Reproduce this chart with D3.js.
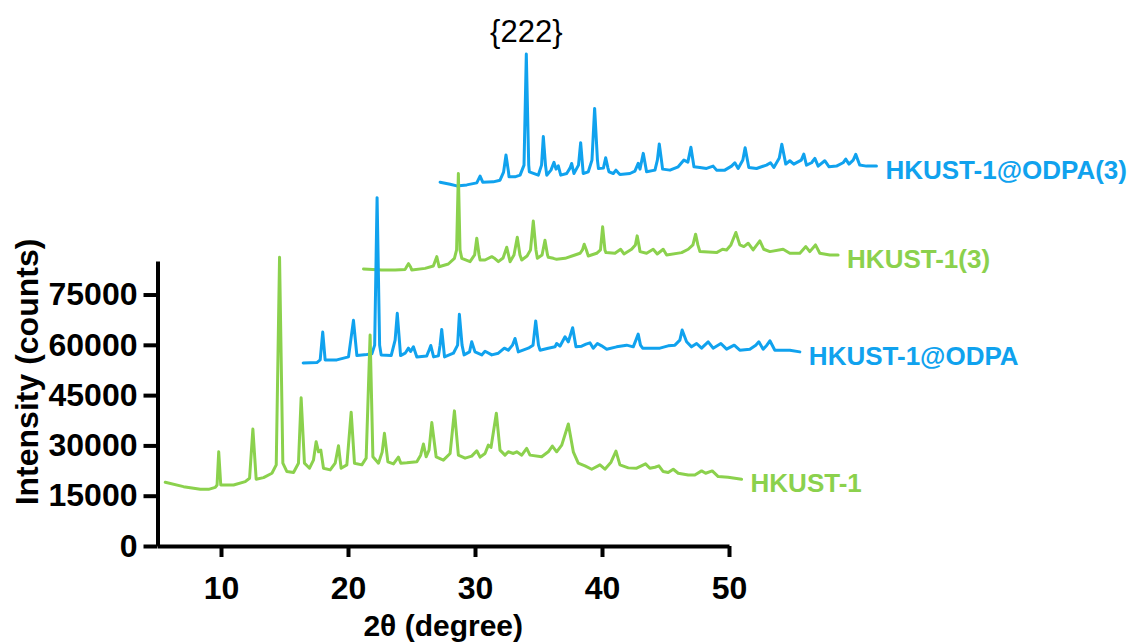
<!DOCTYPE html>
<html>
<head>
<meta charset="utf-8">
<script src="https://cdn.jsdelivr.net/npm/d3@7"></script>
<style>
  html, body { margin: 0; padding: 0; background: #fff; }
  svg { display: block; }
  text { font-family: "Liberation Sans", Arial, Helvetica, sans-serif; }
</style>
</head>
<body>
<svg id="chart" width="1143" height="643"></svg>
<script>
// XRD patterns as [2θ (degree), intensity (counts)], stacked waterfall style
const hkust1 = [
  [5.61,19000],[7.05,17700],[8.37,16900],[9.02,16900],[9.55,17500],[9.69,18200],[9.82,28100],[9.98,18200],
  [10.99,18200],[11.91,19200],[12.25,20200],[12.51,34900],[12.77,19900],[13.35,20400],[14.01,21700],[14.35,24200],
  [14.61,86100],[14.87,24700],[15.19,22200],[15.71,21900],[16.10,24700],[16.31,44200],[16.57,24700],[16.97,23200],
  [17.28,25600],[17.49,31100],[17.68,28100],[17.86,28600],[18.07,23200],[18.60,22700],[18.99,24700],[19.25,29900],
  [19.46,23200],[19.91,24200],[20.25,39900],[20.51,24700],[21.09,24200],[21.43,26200],[21.74,62900],[21.96,26600],
  [22.40,24700],[22.69,28000],[22.87,33600],[23.14,25100],[23.58,24500],[23.97,26500],[24.16,24700],[24.63,24800],
  [25.42,25100],[25.72,27100],[25.94,30400],[26.15,26600],[26.38,28600],[26.60,36800],[26.94,26600],[27.51,25600],
  [28.04,27600],[28.38,40300],[28.69,27100],[29.22,26200],[29.74,26800],[30.14,28400],[30.40,26500],[30.79,27600],
  [31.05,30100],[31.26,29400],[31.68,39600],[31.97,28600],[32.36,27100],[32.62,28100],[33.02,27600],[33.29,28100],
  [33.68,27100],[34.07,29100],[34.33,27100],[35.25,26600],[35.77,28100],[36.09,29800],[36.43,28100],[36.83,30100],
  [37.35,36400],[37.74,28100],[38.13,24700],[38.66,23900],[39.19,22900],[39.84,24200],[40.23,22900],[40.71,25000],
  [41.10,28300],[41.41,24200],[42.07,23300],[42.73,23200],[43.43,24500],[43.77,23200],[44.17,23500],[44.48,23900],
  [44.82,22200],[45.21,21900],[45.61,22900],[46.00,21700],[46.79,21200],[47.31,21200],[47.84,22400],[48.16,21700],
  [48.68,22400],[49.15,20700],[49.93,20500],[50.99,19900]
];

const hkust1Odpa = [
  [16.47,54600],[17.55,54700],[17.81,55500],[18.01,63800],[18.20,55500],[19.12,55500],[20.04,56400],[20.43,67300],
  [20.70,56800],[21.48,57100],[21.88,57300],[22.10,59900],[22.29,103900],[22.49,59900],[22.61,57000],[23.40,56800],
  [23.71,61400],[23.88,69400],[24.14,56800],[24.50,57500],[24.76,59000],[24.93,58000],[25.15,59400],[25.42,56400],
  [26.20,56700],[26.38,58400],[26.52,59800],[26.74,56400],[27.12,56700],[27.25,59900],[27.38,64600],[27.60,56400],
  [28.30,57500],[28.63,59900],[28.77,69100],[28.98,59900],[29.14,57000],[29.57,57900],[29.74,60900],[30.00,57900],
  [30.53,57000],[30.79,58100],[31.32,57000],[31.84,57500],[32.31,59000],[32.62,58400],[32.95,59900],[33.15,61900],
  [33.41,57900],[34.20,59000],[34.57,59900],[34.78,67100],[35.00,59900],[35.12,58400],[35.77,59000],[36.30,59400],
  [36.43,60400],[36.69,59600],[37.09,62400],[37.35,60900],[37.69,65100],[37.95,59400],[38.40,59600],[38.74,60200],
  [39.05,60600],[39.31,59000],[39.64,60400],[39.97,59700],[40.37,58700],[41.15,59400],[41.94,59900],[42.46,59400],
  [42.67,61400],[42.85,63200],[43.03,59900],[43.20,59000],[43.77,59000],[44.56,59000],[45.21,59700],[45.74,59900],
  [46.13,61400],[46.31,64400],[46.66,60900],[47.05,59400],[47.45,60400],[47.84,59000],[48.36,60900],[48.75,59000],
  [49.36,60400],[49.81,58700],[50.41,59900],[50.85,58400],[51.64,58700],[52.11,59900],[52.35,60900],[52.69,58700],
  [52.98,59900],[53.22,61200],[53.61,58400],[54.79,58400],[55.58,57900]
];

const hkust1Three = [
  [21.22,82600],[22.66,82300],[23.71,82300],[24.50,82500],[24.65,83500],[24.77,84200],[24.93,83200],[25.02,82300],
  [26.07,82800],[26.72,83500],[26.99,86300],[27.17,83300],[27.90,84100],[28.38,85800],[28.55,88300],[28.69,111100],
  [28.82,88300],[28.96,85800],[29.61,84800],[29.97,86800],[30.14,91800],[30.32,86800],[30.40,85300],[30.79,85300],
  [31.32,86300],[31.50,85900],[31.84,84800],[32.21,85900],[32.50,89100],[32.76,84800],[33.07,86800],[33.33,92100],
  [33.54,86800],[33.68,85300],[34.10,86500],[34.37,88300],[34.59,96900],[34.80,88300],[34.91,85800],[35.28,86800],
  [35.51,91200],[35.71,86800],[35.77,86100],[36.17,85800],[36.43,85500],[37.09,85800],[37.87,86800],[38.27,87300],
  [38.46,88300],[38.60,90000],[38.77,88300],[38.92,86500],[39.58,87300],[39.88,88300],[40.05,95200],[40.23,88300],
  [40.31,87500],[41.02,87300],[41.47,88500],[41.73,87100],[42.33,88500],[42.63,89800],[42.77,92500],[42.95,88900],
  [42.99,87800],[43.51,87300],[44.03,88500],[44.35,87100],[44.82,88500],[45.09,86800],[46.27,87500],[46.79,88500],
  [47.16,89800],[47.37,93000],[47.55,89800],[47.71,87800],[49.02,87500],[49.49,88500],[49.81,88300],[50.15,89800],
  [50.54,93500],[50.85,89800],[51.17,89300],[51.51,90300],[51.90,88300],[52.43,91000],[52.74,88500],[53.22,87800],
  [54.26,88500],[54.79,87300],[55.58,87300],[56.05,89300],[56.36,87800],[56.81,89800],[57.15,87300],[57.94,86800],
  [58.59,86800]
];

const hkust1OdpaThree = [
  [27.25,108500],[28.04,107900],[28.56,107400],[29.35,107700],[30.14,108300],[30.40,110300],[30.61,108500],[31.44,108600],
  [31.97,109100],[32.25,111500],[32.44,116600],[32.64,111500],[32.68,110100],[33.15,110100],[33.55,110600],[33.86,113600],
  [34.04,146700],[34.23,113600],[34.28,111600],[34.98,110600],[35.24,113600],[35.38,122100],[35.55,113600],[35.65,110600],
  [35.98,112100],[36.22,114400],[36.38,112400],[36.56,113400],[36.75,110600],[37.22,111100],[37.48,112700],[37.61,114100],
  [37.79,111100],[38.15,113600],[38.32,120300],[38.52,111100],[38.92,111600],[39.21,115100],[39.42,130500],[39.64,115100],
  [39.72,112600],[40.11,112700],[40.29,115800],[40.47,112700],[40.55,111600],[40.89,111100],[41.10,112100],[41.26,111400],
  [41.41,110800],[42.20,111100],[42.59,111800],[42.85,114100],[42.99,112400],[43.25,117100],[43.51,111600],[44.17,112100],
  [44.36,115100],[44.51,119900],[44.68,115100],[44.77,112400],[45.35,112100],[46.00,113100],[46.45,115100],[46.76,114500],
  [47.00,118900],[47.24,113100],[47.71,112900],[48.23,112600],[48.75,113300],[49.02,112100],[49.67,112100],[50.20,113300],
  [50.46,114300],[50.72,112600],[51.09,115100],[51.27,118800],[51.56,112900],[52.17,112600],[52.95,113600],[53.27,114300],
  [53.53,112900],[53.96,115700],[54.16,119800],[54.47,113900],[54.79,114900],[55.10,113900],[55.69,115100],[55.89,116900],
  [56.10,113600],[56.50,114300],[56.76,115600],[57.02,113300],[57.54,114900],[57.88,113100],[58.46,113300],[58.98,114300],
  [59.19,115400],[59.45,113900],[59.78,115100],[59.98,116800],[60.29,113600],[60.82,113300],[61.61,113300]
];

const seriesNames  = ["HKUST-1", "HKUST-1@ODPA", "HKUST-1(3)", "HKUST-1@ODPA(3)"];
const seriesData   = [hkust1, hkust1Odpa, hkust1Three, hkust1OdpaThree];
const seriesColors = ["#8bd14d", "#10a2ee", "#8bd14d", "#10a2ee"];

const xMajorTicks = [10, 20, 30, 40, 50];
const xMinorTicks = [5, 15, 25, 35, 45];
const yMajorTicks = [0, 15000, 30000, 45000, 60000, 75000];
const yMinorTicks = [7500, 22500, 37500, 52500, 67500, 82500];

const peakLabelText = "{222}";
const peakLabelPoint = [34.04, 146700];

// ---- scales ----
const svg = d3.select("#chart");
const x = d3.scaleLinear().domain([5, 50]).range([157.5, 729]);
const y = d3.scaleLinear().domain([0, 85000]).range([546, 261]);

const axisColor = "#000";
const axisWidth = 4;
const tickFont = "32px";

// ---- y axis ----
const gy = svg.append("g").attr("transform", `translate(${x(5)},0)`);
gy.call(d3.axisLeft(y).tickValues(yMinorTicks).tickSize(7).tickSizeOuter(0).tickFormat(""));
gy.call(d3.axisLeft(y).tickValues(yMajorTicks).tickSize(14).tickSizeOuter(0).tickPadding(6).tickFormat(d3.format("d")));
gy.selectAll("path.domain").attr("stroke", axisColor).attr("stroke-width", axisWidth);
gy.selectAll(".tick line").attr("stroke", axisColor).attr("stroke-width", axisWidth);
gy.selectAll(".tick text")
  .attr("fill", axisColor)
  .style("font-size", tickFont)
  .style("font-weight", "bold")
  .style("font-family", "'Liberation Sans', Arial, sans-serif");

// ---- x axis ----
const gx = svg.append("g").attr("transform", `translate(0,${y(0)})`);
gx.call(d3.axisBottom(x).tickValues(xMinorTicks).tickSize(8).tickSizeOuter(0).tickFormat(""));
gx.call(d3.axisBottom(x).tickValues(xMajorTicks).tickSize(11).tickSizeOuter(0).tickPadding(19).tickFormat(d3.format("d")));
gx.selectAll("path.domain").attr("stroke", axisColor).attr("stroke-width", axisWidth);
gx.selectAll(".tick line").attr("stroke", axisColor).attr("stroke-width", axisWidth);
gx.selectAll(".tick text")
  .attr("fill", axisColor)
  .style("font-size", tickFont)
  .style("font-weight", "bold")
  .style("font-family", "'Liberation Sans', Arial, sans-serif");

// ---- axis titles ----
svg.append("text")
  .attr("x", (x(5) + x(50)) / 2)
  .attr("y", 636)
  .attr("text-anchor", "middle")
  .style("font-size", "30px")
  .style("font-weight", "bold")
  .text("2θ (degree)");

svg.append("text")
  .attr("transform", `translate(38,372) rotate(-90)`)
  .attr("text-anchor", "middle")
  .style("font-size", "32px")
  .style("font-weight", "bold")
  .text("Intensity (counts)");

// ---- patterns: drawn back (top) to front (bottom) ----
const line = d3.line()
  .x(d => x(d[0]))
  .y(d => y(d[1]))
  .curve(d3.curveLinear);

const order = [3, 2, 1, 0];
const gLines = svg.append("g");
order.forEach(i => {
  gLines.append("path")
    .datum(seriesData[i])
    .attr("fill", "none")
    .attr("stroke", seriesColors[i])
    .attr("stroke-width", 3)
    .attr("stroke-linejoin", "round")
    .attr("stroke-linecap", "round")
    .attr("d", line);
});

// ---- series labels at the end of each pattern ----
seriesData.forEach((data, i) => {
  const last = data[data.length - 1];
  svg.append("text")
    .attr("x", x(last[0]) + 9)
    .attr("y", y(last[1]) + 4)
    .attr("dy", "0.35em")
    .attr("fill", seriesColors[i])
    .style("font-size", "26px")
    .style("font-weight", "bold")
    .text(seriesNames[i]);
});

// ---- reflection label ----
svg.append("text")
  .attr("x", x(peakLabelPoint[0]))
  .attr("y", y(peakLabelPoint[1]) - 12)
  .attr("text-anchor", "middle")
  .attr("fill", "#000")
  .style("font-size", "31px")
  .style("font-weight", "normal")
  .text(peakLabelText);
</script>
</body>
</html>
